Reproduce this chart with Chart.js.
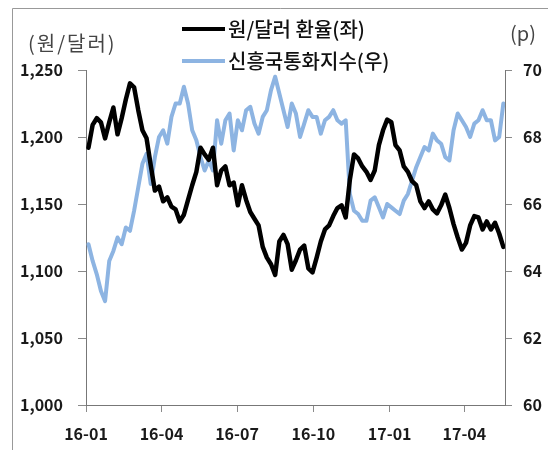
<!DOCTYPE html>
<html>
<head>
<meta charset="utf-8">
<script src="https://cdn.jsdelivr.net/npm/chart.js@4"></script>
<style>
  html, body { margin: 0; padding: 0; background: #fff; }
  #wrap { width: 548px; height: 450px; }
</style>
</head>
<body>
<div id="wrap"><canvas id="c" width="548" height="450"></canvas></div>
<script>
// days counted from 2016-01-01; one reading every 5 days from 2016-01-04
const startDay = 3;
const stepDays = 5;

// 원/달러 환율 (left axis)
const krwUsd = [
  1192, 1209, 1214, 1211, 1199, 1211, 1222, 1202, 1214, 1228,
  1240, 1237, 1220, 1205, 1199, 1179, 1160, 1163, 1152, 1155,
  1148, 1146, 1137, 1142, 1153, 1164, 1174, 1192, 1187, 1183,
  1192, 1164, 1175, 1178, 1164, 1166, 1149, 1164, 1153, 1144,
  1139, 1134, 1118, 1110, 1105, 1097, 1122, 1127, 1120, 1101,
  1108, 1116, 1119, 1102, 1099, 1110, 1122, 1131, 1134, 1141,
  1147, 1149, 1140, 1168, 1187, 1184, 1178, 1174, 1168, 1175,
  1194, 1205, 1213, 1211, 1194, 1190, 1178, 1174, 1167, 1164,
  1152, 1147, 1152, 1146, 1143, 1149, 1157, 1147, 1135, 1125,
  1116, 1121, 1134, 1141, 1140, 1131, 1137, 1131, 1136, 1128,
  1118
];

// 신흥국통화지수 (right axis)
const emIndex = [
  64.8, 64.3, 63.9, 63.4, 63.1, 64.3, 64.6, 65.0, 64.8, 65.3,
  65.2, 65.8, 66.5, 67.2, 67.5, 66.6, 67.4, 68.0, 68.2, 67.8,
  68.6, 69.0, 69.0, 69.5, 69.0, 68.2, 67.9, 67.4, 67.0, 67.3,
  67.0, 68.5, 67.8, 68.5, 68.7, 67.6, 68.5, 68.2, 68.8, 68.9,
  68.4, 68.1, 68.6, 68.8, 69.4, 69.8, 69.3, 68.8, 68.3, 69.0,
  68.7, 68.0, 68.4, 68.8, 68.6, 68.6, 68.1, 68.5, 68.6, 68.8,
  68.5, 68.4, 68.5, 66.3, 65.8, 65.7, 65.5, 65.5, 66.1, 66.2,
  65.9, 65.6, 66.0, 65.9, 65.8, 65.7, 66.1, 66.3, 66.7, 67.1,
  67.4, 67.7, 67.6, 68.1, 67.9, 67.8, 67.4, 67.3, 68.2, 68.7,
  68.5, 68.3, 68.0, 68.4, 68.5, 68.8, 68.5, 68.5, 67.9, 68.0,
  69.0
];

const quarterDays = [0, 91, 182, 274, 366, 456];
const quarterLabels = ['16-01', '16-04', '16-07', '16-10', '17-01', '17-04'];

const seriesNames = ['원/달러 환율(좌)', '신흥국통화지수(우)'];
const leftUnit = '(원/달러)';
const rightUnit = '(p)';

const days = krwUsd.map((_, i) => startDay + i * stepDays);
const FONT = '"Noto Sans CJK KR", "Noto Sans", sans-serif';

const axisGrid = {
  display: true,
  drawOnChartArea: false,
  drawTicks: true,
  color: '#8a8a8a',
};

// frame, legend and unit captions
const decor = {
  id: 'decor',
  beforeDraw(chart) {
    const ctx = chart.ctx;
    ctx.save();
    ctx.strokeStyle = '#999';
    ctx.lineWidth = 1;
    ctx.beginPath();
    ctx.moveTo(12.5, 450);
    ctx.lineTo(12.5, 8.5);
    ctx.lineTo(548, 8.5);
    ctx.stroke();
    ctx.restore();
  },
  afterDraw(chart) {
    const ctx = chart.ctx;
    ctx.save();
    ctx.textBaseline = 'middle';
    ctx.textAlign = 'left';
    ctx.fillStyle = '#444';
    ctx.font = '20px ' + FONT;
    ctx.letterSpacing = '2px';
    ctx.fillText(leftUnit, 28, 43);
    ctx.letterSpacing = '0px';
    ctx.fillText(rightUnit, 510, 33);

    const rows = [29, 61];
    chart.data.datasets.forEach((ds, i) => {
      const y = rows[i];
      ctx.strokeStyle = ds.borderColor;
      ctx.lineWidth = 4;
      ctx.beginPath();
      ctx.moveTo(182, y);
      ctx.lineTo(225, y);
      ctx.stroke();
      ctx.fillStyle = '#111';
      ctx.font = '500 20px ' + FONT;
      ctx.fillText(ds.label, 228, y);
    });
    ctx.restore();
  }
};

new Chart(document.getElementById('c'), {
  type: 'line',
  data: {
    datasets: [
      {
        label: seriesNames[0],
        data: days.map((d, i) => ({ x: d, y: krwUsd[i] })),
        borderColor: '#000000',
        borderWidth: 4.5,
        yAxisID: 'y',
      },
      {
        label: seriesNames[1],
        data: days.map((d, i) => ({ x: d, y: emIndex[i] })),
        borderColor: '#8db4e2',
        borderWidth: 4,
        yAxisID: 'y2',
      }
    ]
  },
  options: {
    responsive: false,
    animation: false,
    devicePixelRatio: 1,
    layout: { padding: { left: 0, right: 0, top: 70, bottom: 0 } },
    elements: {
      point: { radius: 0 },
      line: { tension: 0, borderJoinStyle: 'round', borderCapStyle: 'round' }
    },
    plugins: {
      legend: { display: false },
      tooltip: { enabled: false }
    },
    scales: {
      x: {
        type: 'linear',
        min: 0,
        max: 505,
        afterBuildTicks(scale) {
          scale.ticks = quarterDays.map(v => ({ value: v }));
        },
        afterFit(scale) { scale.height = 45; },
        grid: Object.assign({}, axisGrid, { tickLength: 7 }),
        border: { display: true, color: '#777', width: 1 },
        ticks: {
          color: '#1a1a1a',
          padding: 12,
          maxRotation: 0,
          font: { family: FONT, size: 16, weight: 'bold' },
          callback: v => quarterLabels[quarterDays.indexOf(v)]
        }
      },
      y: {
        position: 'left',
        min: 1000,
        max: 1250,
        afterFit(scale) { scale.width = 86; },
        grid: Object.assign({}, axisGrid, { tickLength: 8 }),
        border: { display: true, color: '#777', width: 1 },
        ticks: {
          stepSize: 50,
          color: '#1a1a1a',
          padding: 15,
          font: { family: FONT, size: 16, weight: 'bold' },
          callback: v => v.toLocaleString('en-US')
        }
      },
      y2: {
        position: 'right',
        min: 60,
        max: 70,
        afterFit(scale) { scale.width = 43; },
        grid: Object.assign({}, axisGrid, { tickLength: 7 }),
        border: { display: true, color: '#777', width: 1 },
        ticks: {
          stepSize: 2,
          color: '#1a1a1a',
          padding: 11,
          font: { family: FONT, size: 16, weight: 'bold' }
        }
      }
    }
  },
  plugins: [decor]
});
</script>
</body>
</html>
